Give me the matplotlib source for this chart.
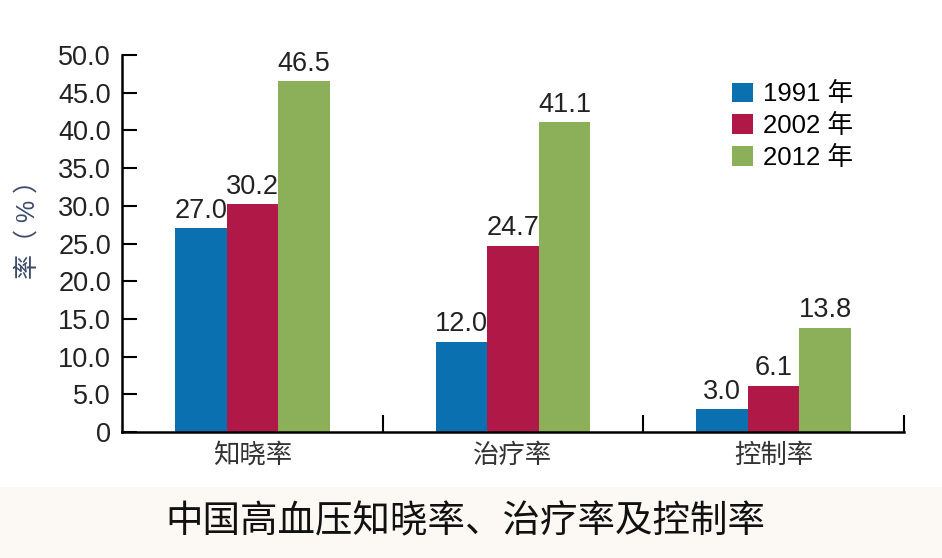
import numpy as np
import matplotlib.pyplot as plt
from matplotlib.patches import Rectangle
from matplotlib.ticker import FuncFormatter

plt.rcParams['font.family'] = ['Liberation Sans', 'Noto Sans CJK SC']

categories = ["知晓率", "治疗率", "控制率"]
years = ["1991 年", "2002 年", "2012 年"]
values_1991 = [27.0, 12.0, 3.0]
values_2002 = [30.2, 24.7, 6.1]
values_2012 = [46.5, 41.1, 13.8]
colors = ["#0a70b0", "#b01848", "#8cb05a"]
title = "中国高血压知晓率、治疗率及控制率"


def main():
    fig = plt.figure(figsize=(9.42, 5.58), dpi=100)
    # caption band at the bottom
    fig.patches.append(Rectangle((0, 0), 1, 71 / 558, transform=fig.transFigure,
                                 facecolor="#fcf8f4", edgecolor="none", zorder=0))
    ax = fig.add_axes([122 / 942, 126 / 558, 782 / 942, 377 / 558])

    x = np.arange(len(categories))
    width = 0.198
    series = [values_1991, values_2002, values_2012]
    for i, vals in enumerate(series):
        pos = x + (i - 1) * width
        bars = ax.bar(pos, vals, width=width, color=colors[i], label=years[i], zorder=2)
        for b, v in zip(bars, vals):
            ax.text(b.get_x() + b.get_width() / 2, v + 0.6, f"{v:.1f}",
                    ha="center", va="bottom", fontsize=19.5, color="#222222")

    ax.set_xlim(-0.5, 2.5)
    ax.set_ylim(0, 50)
    ax.set_yticks(np.arange(0, 51, 5))
    ax.yaxis.set_major_formatter(FuncFormatter(lambda v, p: "0" if v == 0 else f"{v:.1f}"))
    ax.tick_params(axis="y", direction="in", length=11, width=1.5, labelsize=19.5,
                   labelcolor="#222222", pad=8)

    ax.set_xticks(x)
    ax.set_xticklabels(categories, fontsize=19, color="#333333")
    ax.tick_params(axis="x", which="major", length=0, pad=8)
    ax.set_xticks([0.5, 1.5, 2.5], minor=True)
    ax.tick_params(axis="x", which="minor", direction="in", length=12, width=1.5)

    for s in ["top", "right"]:
        ax.spines[s].set_visible(False)
    for s in ["left", "bottom"]:
        ax.spines[s].set_linewidth(1.8)
        ax.spines[s].set_color("black")

    fig.text(28 / 942, 1 - 223 / 558, "率（ % ）", rotation=90, ha="center", va="center",
             fontsize=18, color="#3a4a6a")

    ax.legend(loc="upper left", bbox_to_anchor=(722 / 942, 1 - 72 / 558),
              bbox_transform=fig.transFigure, frameon=False, fontsize=18.5,
              handlelength=0.8, handleheight=0.8, handletextpad=0.4, labelspacing=0.3,
              borderaxespad=0)

    fig.text(465 / 942, 1 - 522 / 558, title, ha="center", va="center",
             fontsize=27, color="#111111")

    fig.savefig("out.png", dpi=100)


if __name__ == '__main__':
    main()
